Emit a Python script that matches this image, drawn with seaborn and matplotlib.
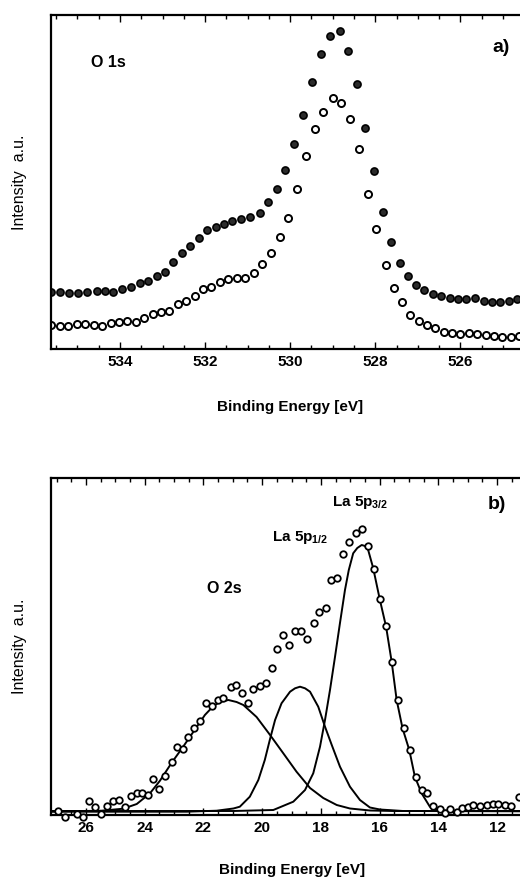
import matplotlib
matplotlib.use("Agg")
import matplotlib.pyplot as plt
import seaborn as sns
from matplotlib.ticker import MultipleLocator

# ---- panel a : O 1s, two spectra (filled / open circles) ----
filled_E = [535.61, 535.41, 535.20, 534.98, 534.77, 534.55, 534.35, 534.16, 533.95, 533.74,
            533.53, 533.33, 533.14, 532.94, 532.75, 532.55, 532.35, 532.15, 531.95, 531.74,
            531.55, 531.36, 531.16, 530.94, 530.72, 530.51, 530.31, 530.12, 529.91, 529.70,
            529.49, 529.27, 529.06, 528.84, 528.64, 528.43, 528.24, 528.02, 527.82, 527.62,
            527.43, 527.24, 527.04, 526.85, 526.64, 526.45, 526.25, 526.05, 525.86, 525.65,
            525.45, 525.25, 525.06, 524.86, 524.67]
filled_I = [57.3, 56.7, 56.3, 55.7, 56.7, 58.3, 58.0, 57.3, 59.7, 61.7,
            66.3, 68.0, 73.0, 77.3, 87.3, 95.7, 103.0, 111.3, 119.0, 122.3,
            125.0, 128.0, 130.3, 131.7, 136.3, 146.7, 159.7, 179.0, 205.0, 233.7,
            266.7, 295.0, 313.3, 318.0, 298.0, 264.7, 220.7, 178.3, 137.3, 107.3,
            85.7, 73.0, 64.0, 59.0, 55.0, 53.0, 51.3, 50.0, 49.7, 50.7,
            48.3, 47.3, 47.3, 48.0, 49.7]

open_E = [535.61, 535.41, 535.21, 535.01, 534.82, 534.62, 534.42, 534.22, 534.02, 533.83,
          533.63, 533.44, 533.23, 533.04, 532.84, 532.64, 532.45, 532.24, 532.05, 531.85,
          531.66, 531.46, 531.25, 531.06, 530.86, 530.67, 530.45, 530.24, 530.04, 529.84,
          529.62, 529.41, 529.22, 529.00, 528.80, 528.59, 528.38, 528.18, 527.98, 527.76,
          527.57, 527.37, 527.18, 526.98, 526.78, 526.59, 526.39, 526.20, 526.00, 525.80,
          525.61, 525.41, 525.22, 525.02, 524.82, 524.63]
open_I = [24.0, 23.0, 23.3, 24.7, 25.0, 24.0, 23.0, 25.7, 26.7, 28.3,
          27.0, 30.7, 34.7, 36.7, 38.3, 45.0, 48.0, 53.0, 60.0, 61.7,
          67.3, 70.3, 70.7, 71.3, 76.3, 84.7, 95.7, 111.7, 130.7, 160.0,
          193.0, 219.7, 237.3, 250.7, 245.7, 230.0, 200.0, 154.7, 120.0, 84.0,
          60.7, 46.7, 34.0, 28.3, 24.0, 20.7, 16.7, 15.7, 15.0, 15.7,
          14.7, 14.0, 13.0, 11.7, 12.3, 13.0]

# ---- panel b : valence region, data + fitted components ----
b_E = [26.94, 26.72, 26.32, 26.09, 25.89, 25.69, 25.49, 25.30, 25.09, 24.86,
       24.67, 24.47, 24.27, 24.10, 23.90, 23.70, 23.50, 23.31, 23.08, 22.91,
       22.71, 22.52, 22.32, 22.12, 21.91, 21.72, 21.49, 21.32, 21.06, 20.89,
       20.70, 20.49, 20.30, 20.07, 19.87, 19.68, 19.48, 19.28, 19.08, 18.88,
       18.68, 18.46, 18.24, 18.05, 17.83, 17.67, 17.46, 17.24, 17.03, 16.81,
       16.61, 16.41, 16.19, 15.99, 15.78, 15.59, 15.39, 15.17, 14.97, 14.76,
       14.57, 14.40, 14.17, 13.95, 13.78, 13.60, 13.38, 13.21, 12.98, 12.81,
       12.58, 12.36, 12.15, 11.96, 11.73, 11.51, 11.24]
b_I = [4.3, -1.7, 1.0, -1.7, 14.3, 8.3, 1.0, 9.0, 14.3, 15.0,
       7.7, 19.0, 22.3, 22.3, 20.0, 35.7, 25.7, 39.0, 53.3, 68.3,
       65.7, 77.7, 87.3, 94.3, 111.7, 109.0, 115.0, 116.7, 128.3, 130.0,
       121.7, 112.3, 125.7, 129.0, 131.7, 146.7, 165.7, 180.0, 170.0, 184.3,
       184.3, 175.7, 191.7, 203.3, 207.3, 235.0, 236.7, 261.0, 273.3, 281.7,
       285.7, 269.0, 245.7, 215.7, 189.0, 153.3, 115.0, 86.7, 65.0, 37.7,
       25.0, 21.7, 9.0, 5.7, 1.7, 5.7, 3.3, 6.7, 8.3, 10.0,
       9.0, 10.0, 11.0, 11.0, 10.0, 9.0, 18.3]

o2s_E = [27.2, 26.09, 25.47, 24.73, 24.27, 23.82, 23.48, 23.08, 22.69, 22.23, 21.95,
         21.66, 21.44, 21.15, 20.87, 20.64, 20.19, 19.73, 19.28, 18.83, 18.37, 17.92,
         17.46, 17.01, 16.33, 15.5, 11.22]
o2s_I = [3.7, 4.0, 4.3, 6.3, 11.0, 21.7, 34.3, 52.3, 68.3, 88.0, 100.0,
         109.0, 113.0, 115.0, 113.0, 110.0, 98.0, 80.0, 61.7, 43.3, 27.0, 17.0,
         10.0, 6.5, 4.5, 4.0, 4.0]

p12_E = [27.2, 22.57, 21.55, 20.98, 20.76, 20.42, 20.13, 19.91, 19.74, 19.56, 19.34,
         19.05, 18.88, 18.71, 18.54, 18.37, 18.09, 17.86, 17.63, 17.35, 17.01, 16.67,
         16.33, 15.99, 15.2, 11.22]
p12_I = [3.3, 3.3, 4.3, 6.5, 8.3, 18.3, 35.0, 55.0, 75.0, 95.0, 111.7,
         123.3, 126.7, 128.3, 126.7, 123.3, 108.3, 88.3, 70.0, 48.3, 28.3, 15.0,
         7.5, 5.5, 4.0, 3.7]

p32_E = [27.2, 20.98, 19.62, 18.94, 18.54, 18.26, 18.03, 17.86, 17.69, 17.52, 17.35,
         17.18, 17.05, 16.90, 16.76, 16.61, 16.50, 16.39, 16.22, 15.99, 15.78, 15.59,
         15.42, 15.22, 14.99, 14.80, 14.57, 14.29, 13.95, 13.04, 11.22]
p32_I = [4.0, 4.0, 5.0, 13.3, 25.0, 41.7, 68.3, 95.0, 125.0, 158.0, 192.0,
         225.0, 245.0, 261.7, 267.0, 270.0, 269.0, 265.0, 247.0, 215.0, 188.3, 153.3,
         115.0, 86.7, 65.0, 38.3, 21.7, 8.3, 4.5, 4.0, 4.0]

sns.set_style("ticks")
plt.rcParams["font.family"] = ["Liberation Sans", "DejaVu Sans"]
plt.rcParams["font.weight"] = "bold"
plt.rcParams["text.color"] = "black"
plt.rcParams["axes.labelcolor"] = "black"
plt.rcParams["xtick.color"] = "black"
plt.rcParams["mathtext.fontset"] = "custom"
plt.rcParams["mathtext.bf"] = "Liberation Sans:bold"
plt.rcParams["mathtext.rm"] = "Liberation Sans:bold"

fig = plt.figure(figsize=(5.2, 8.82), dpi=100)
ax_a = fig.add_axes([51 / 520, 1 - 349 / 882, 469 / 520, 334 / 882])
ax_b = fig.add_axes([51 / 520, 1 - 815 / 882, 469 / 520, 337 / 882])


def style_axes(ax):
    for side in ["left", "bottom", "top"]:
        ax.spines[side].set_linewidth(1.6)
        ax.spines[side].set_color("black")
    ax.spines["right"].set_visible(False)
    ax.set_yticks([])
    ax.xaxis.set_major_locator(MultipleLocator(2))
    ax.xaxis.set_minor_locator(MultipleLocator(0.5))
    ax.tick_params(axis="x", which="both", direction="in", top=True, bottom=True,
                   labelsize=11, pad=4, color="black", labelcolor="black", width=1.0)
    ax.tick_params(axis="x", which="major", length=5)
    ax.tick_params(axis="x", which="minor", length=3)
    ax.set_ylabel("Intensity  a.u.", fontsize=11.5, fontweight="normal")
    ax.yaxis.set_label_coords(-31 / 469, 0.5)
    ax.yaxis.label.set_va("center")
    ax.set_xlabel("Binding Energy [eV]", fontsize=11, fontweight="bold")
    ax.xaxis.label.set_va("center")


# panel a
sns.scatterplot(x=filled_E, y=filled_I, ax=ax_a, marker="o", s=26,
                facecolor="#2b2b2b", edgecolor="black", linewidth=1.2)
sns.scatterplot(x=open_E, y=open_I, ax=ax_a, marker="o", s=26,
                facecolor="white", edgecolor="black", linewidth=1.4)
ax_a.set_xlim(535.62, 524.6)
ax_a.set_ylim(0, 334)
style_axes(ax_a)
ax_a.xaxis.set_label_coords(0.51, -58 / 334)
ax_a.text(0.1215, 0.859, "O 1s", transform=ax_a.transAxes, fontsize=11.5,
          fontweight="bold", ha="center", va="center")
ax_a.text(0.9595, 0.904, "a)", transform=ax_a.transAxes, fontsize=14,
          fontweight="bold", ha="center", va="center")

# panel b
for cx, cy in [(o2s_E, o2s_I), (p12_E, p12_I), (p32_E, p32_I)]:
    sns.lineplot(x=cx, y=cy, ax=ax_b, color="black", linewidth=1.4,
                 estimator=None, sort=False)
sns.scatterplot(x=b_E, y=b_I, ax=ax_b, marker="o", s=22, facecolor="white",
                edgecolor="black", linewidth=1.3, clip_on=False, zorder=3)
ax_b.set_xlim(27.19, 11.22)
ax_b.set_ylim(0, 337)
style_axes(ax_b)
ax_b.xaxis.set_label_coords(0.513, -55 / 337)
ax_b.text(0.659, 0.926, r"La 5p$_{\mathbf{3/2}}$", transform=ax_b.transAxes,
          fontsize=11, fontweight="bold", ha="center", va="center")
ax_b.text(0.531, 0.822, r"La 5p$_{\mathbf{1/2}}$", transform=ax_b.transAxes,
          fontsize=11, fontweight="bold", ha="center", va="center")
ax_b.text(0.369, 0.671, "O 2s", transform=ax_b.transAxes, fontsize=11.5,
          fontweight="bold", ha="center", va="center")
ax_b.text(0.951, 0.92, "b)", transform=ax_b.transAxes, fontsize=14,
          fontweight="bold", ha="center", va="center")

fig.savefig("out.png", dpi=100)
